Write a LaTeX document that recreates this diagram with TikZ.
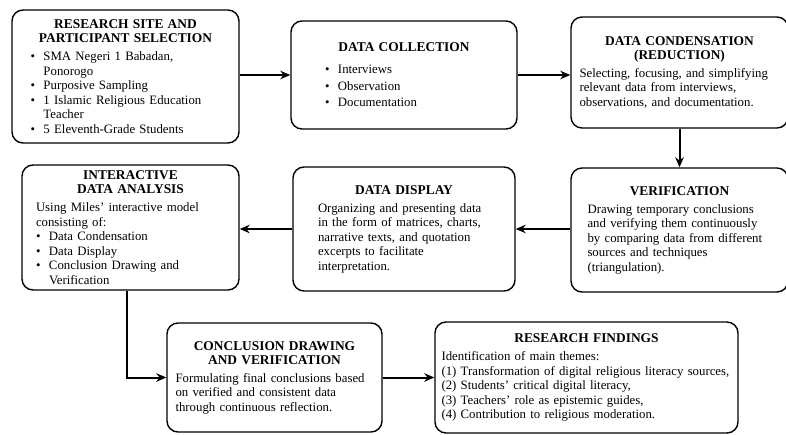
\documentclass[tikz,border=0pt]{standalone}
\usepackage{fontspec}
\setmainfont{Liberation Serif}
\usetikzlibrary{arrows.meta,positioning,calc}

% bullet line with hanging indent, and box headings
\newcommand{\bitem}[1]{\par\hangindent=13pt\hangafter=1\noindent
  \makebox[13pt][l]{\textbullet}#1\par}
\newcommand{\stagetitle}[1]{{\centering\bfseries\fontsize{13.4}{14}\selectfont #1\par}\vspace{3.5pt}}

\begin{document}
\begin{tikzpicture}[
    x=1pt, y=-1pt,
    stage/.style={draw, line width=1.4pt, rounded corners=11pt,
                  align=left, inner xsep=0pt, inner ysep=3pt,
                  font=\fontsize{12.8}{14.5}\selectfont},
    flow/.style={line width=2pt, -{Stealth[length=10pt,width=8.5pt]}},
]
\useasboundingbox (0,0) rectangle (786,434);

%-----------------------------------------------------------------------
% top row
\node[stage, minimum width=227pt, minimum height=133pt, text width=190pt]
  (site) at (125.5,76.5) {%
  \stagetitle{RESEARCH SITE AND\\ PARTICIPANT SELECTION}
  \bitem{SMA Negeri 1 Babadan,\newline Ponorogo}
  \bitem{Purposive Sampling}
  \bitem{1 Islamic Religious Education\newline Teacher}
  \bitem{5 Eleventh-Grade Students}};

\node[stage, minimum width=226pt, minimum height=108pt, text width=158pt,
      font=\fontsize{12.8}{16.5}\selectfont]
  (collect) at (404,75) {%
  \stagetitle{DATA COLLECTION}\vspace{2pt}
  \bitem{Interviews}
  \bitem{Observation}
  \bitem{Documentation}};

\node[stage, minimum width=217pt, minimum height=111pt, text width=200pt]
  (condense) at (679.5,72.5) {%
  \stagetitle{DATA CONDENSATION\\ (REDUCTION)}
  Selecting, focusing, and simplifying\\
  relevant data from interviews,\\
  observations, and documentation.};

%-----------------------------------------------------------------------
% middle row
\node[stage, minimum width=217pt, minimum height=125pt, text width=189pt]
  (analysis) at (130.5,227.5) {%
  \stagetitle{INTERACTIVE\\ DATA ANALYSIS}
  Using Miles' interactive model\\ consisting of:
  \bitem{Data Condensation}
  \bitem{Data Display}
  \bitem{Conclusion Drawing and\newline Verification}};

\node[stage, minimum width=222pt, minimum height=124pt, text width=172pt]
  (display) at (404,229) {%
  \stagetitle{DATA DISPLAY}
  Organizing and presenting data\\
  in the form of matrices, charts,\\
  narrative texts, and quotation\\
  excerpts to facilitate\\
  interpretation.};

\node[stage, minimum width=217pt, minimum height=124pt, text width=184pt]
  (verify) at (679.5,230) {%
  \stagetitle{VERIFICATION}
  Drawing temporary conclusions\\
  and verifying them continuously\\
  by comparing data from different\\
  sources and techniques\\
  (triangulation).};

%-----------------------------------------------------------------------
% bottom row
\node[stage, minimum width=215pt, minimum height=109pt, text width=198pt]
  (conclude) at (274.5,377.5) {%
  \stagetitle{CONCLUSION DRAWING\\ AND VERIFICATION}
  Formulating final conclusions based\\
  on verified and consistent data\\
  through continuous reflection.};

\node[stage, minimum width=303pt, minimum height=111pt, text width=290pt]
  (findings) at (586.5,377.5) {%
  \stagetitle{RESEARCH FINDINGS}
  Identification of main themes:\\
  (1) Transformation of digital religious literacy sources,\\
  (2) Students' critical digital literacy,\\
  (3) Teachers' role as epistemic guides,\\
  (4) Contribution to religious moderation.};

%-----------------------------------------------------------------------
% connectors
\draw[flow] (site.east |- collect.west) -- (collect.west);
\draw[flow] (collect.east) -- (condense.west |- collect.east);
\draw[flow] (condense.south) -- (verify.north);
\draw[flow] (verify.west |- display.east) -- (display.east);
\draw[flow] (display.west) -- (analysis.east |- display.west);
\draw[flow] ([xshift=-3.5pt]analysis.south) |- (conclude.west);
\draw[flow] (conclude.east) -- (findings.west |- conclude.east);

\end{tikzpicture}
\end{document}
